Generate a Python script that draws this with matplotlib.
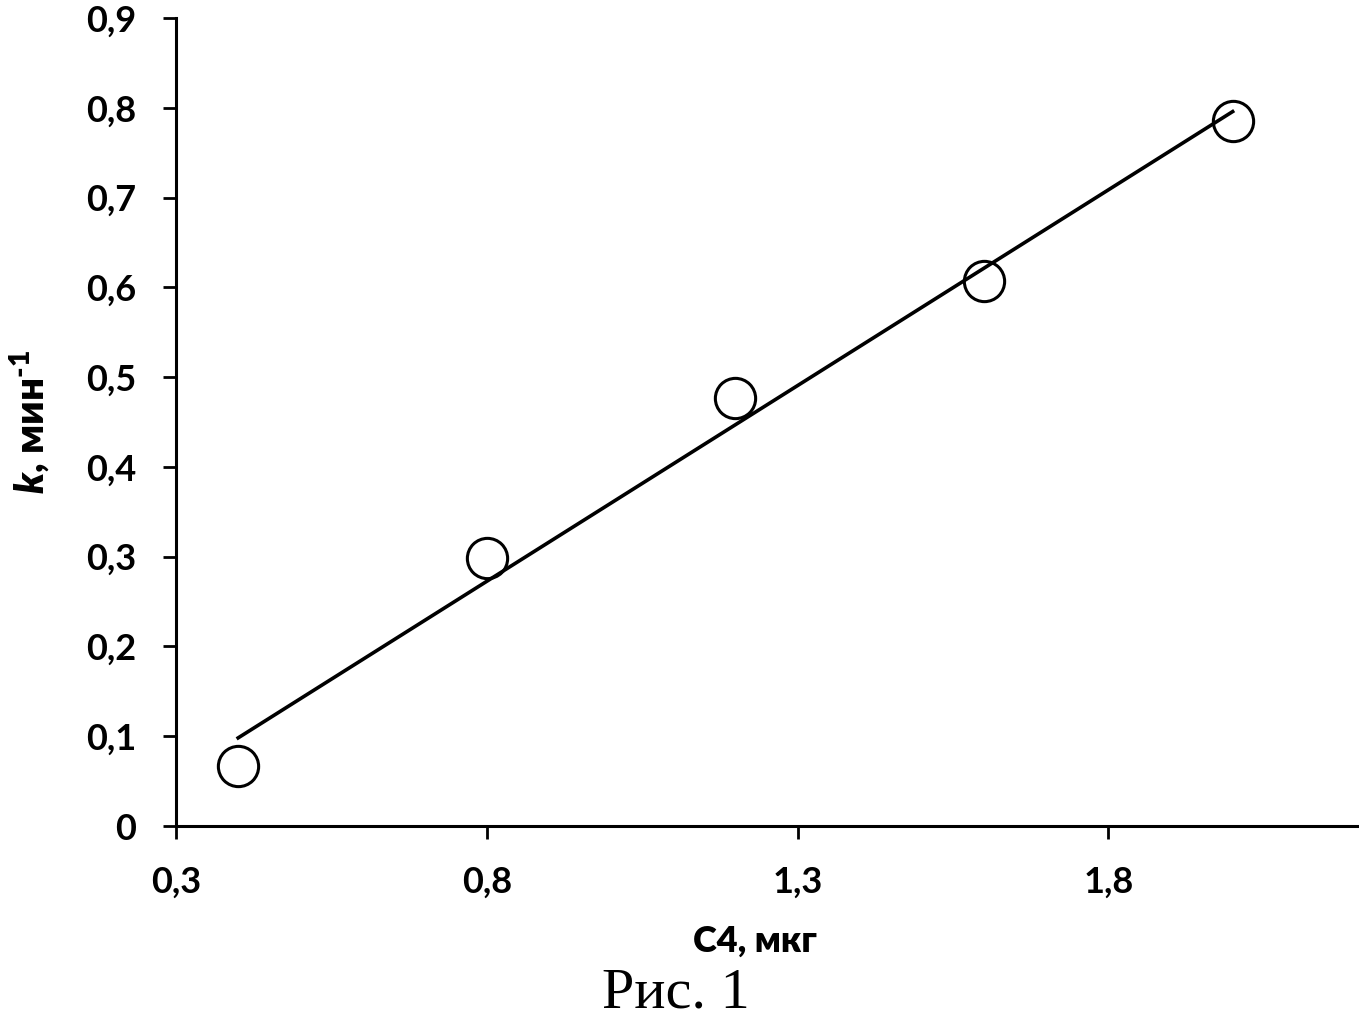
import matplotlib
matplotlib.use("Agg")
import matplotlib.pyplot as plt
import numpy as np

# данные
c4 = [0.4, 0.8, 1.2, 1.6, 2.0]
k_values = [0.067, 0.299, 0.477, 0.607, 0.785]

x_ticks = [0.3, 0.8, 1.3, 1.8]
x_tick_labels = ["0,3", "0,8", "1,3", "1,8"]
y_ticks = [0, 0.1, 0.2, 0.3, 0.4, 0.5, 0.6, 0.7, 0.8, 0.9]
y_tick_labels = ["0", "0,1", "0,2", "0,3", "0,4", "0,5", "0,6", "0,7", "0,8", "0,9"]

plt.rcParams["font.family"] = ["Lato", "DejaVu Sans"]
plt.rcParams["mathtext.fontset"] = "custom"
plt.rcParams["mathtext.it"] = "Lato:italic:heavy"
plt.rcParams["mathtext.rm"] = "Lato:heavy"
plt.rcParams["mathtext.bf"] = "Lato:heavy"

fig = plt.figure(figsize=(13.59, 10.25), dpi=100)
ax = fig.add_axes([0.1295, 0.1941, 0.869, 0.7883])

# линия тренда (линейная аппроксимация)
slope, intercept = np.polyfit(c4, k_values, 1)
x_fit = np.array([min(c4), max(c4)])
ax.plot(x_fit, slope * x_fit + intercept, color="black", lw=2.6, zorder=2)

ax.plot(c4, k_values, linestyle="none", marker="o", markersize=29,
        markerfacecolor="none", markeredgecolor="black", markeredgewidth=2.2,
        zorder=3)

ax.set_xlim(0.3, 2.2)
ax.set_ylim(0, 0.9)
ax.set_xticks(x_ticks)
ax.set_xticklabels(x_tick_labels, fontweight="bold")
ax.set_yticks(y_ticks)
ax.set_yticklabels(y_tick_labels, fontweight="bold")

for side in ["top", "right"]:
  ax.spines[side].set_visible(False)
for side in ["left", "bottom"]:
  ax.spines[side].set_linewidth(2.2)

ax.tick_params(axis="both", direction="out", length=9.5, width=2, pad=19,
               labelsize=26)

ax.set_xlabel("C4, мкг", fontsize=26, fontweight="heavy", labelpad=19)
ax.xaxis.label.set_x(0.49)
ax.set_ylabel("$k$, мин$^{\\text{-1}}$", fontsize=29, fontweight="heavy",
              labelpad=24)

fig.text(0.497, 0.0166, "Рис. 1", family="Liberation Serif", fontsize=42,
         ha="center", va="baseline")

plt.savefig("out.png", dpi=100)
plt.close()
